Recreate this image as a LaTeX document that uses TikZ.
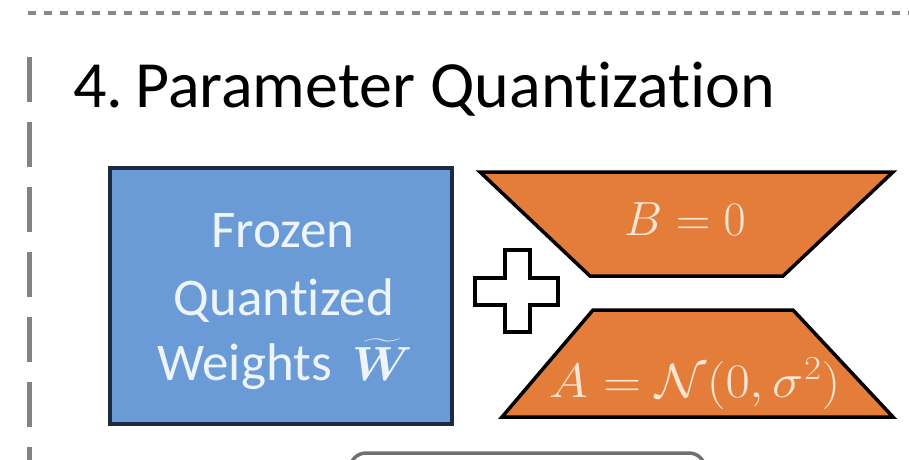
\RequirePackage{fix-cm}
\documentclass[tikz,border=0pt]{standalone}
\usepackage{amsmath,bm}
\usepackage{fontspec}
\setmainfont[Ligatures=CommonOff]{Carlito}
\definecolor{frameGray}{HTML}{8A8A8A}
\definecolor{boxBlue}{HTML}{6A9BD6}
\definecolor{boxNavy}{HTML}{1C2B40}
\definecolor{loraOrange}{HTML}{E47D3A}
\definecolor{textCream}{HTML}{FCE6D4}
\definecolor{textWhite}{HTML}{EEF4FC}
\definecolor{roundGray}{HTML}{707070}
\tikzset{
  titletext/.style={anchor=base west, inner sep=0pt, font=\fontsize{66}{70}\selectfont, text=black},
  bluetext/.style={anchor=base, inner sep=0pt, font=\fontsize{53}{60}\selectfont, text=textWhite},
  mathtext/.style={anchor=base, inner sep=0pt, font=\fontsize{48}{52}\selectfont, text=textCream},
  trap/.style={fill=loraOrange, draw=black, line width=3.5pt, line join=miter},
  plusshape/.style={fill=white, draw=black, line width=4pt, line join=miter},
}
\begin{document}
\begin{tikzpicture}[x=1pt,y=-1pt]
\useasboundingbox (0,0) rectangle (909,459);
\clip (0,0) rectangle (909,459);
% frame lines
\draw[frameGray, line width=3.5pt, dash pattern=on 8pt off 8pt] (28,13) -- (909,13);
\draw[frameGray!95!black, line width=5pt, dash pattern=on 45pt off 20pt] (29,57) -- (29,470);
% title
\node[titletext] (title) at (73,107) {4.\hspace{12pt}Parameter Quantization};
% blue box
\node[draw=boxNavy, fill=boxBlue, line width=4pt, minimum width=342pt, minimum height=256pt, inner sep=0pt] (frozen) at (281,296) {};
\node[bluetext] (l1) at (283,247) {Frozen};
\node[bluetext] (l2) at (284,315) {Quantized};
\node[bluetext, anchor=base east] (l3) at (332,380) {Weights};
\node[anchor=base west, inner sep=0pt, text=textWhite, font=\fontsize{48}{54}\selectfont] (wt) at (352,380) {$\widetilde{\bm{W}}$};
% plus sign
\draw[plusshape] (505,250) -- (530,250) -- (530,278) -- (558,278) -- (558,305) -- (530,305)
  -- (530,332) -- (505,332) -- (505,305) -- (475,305) -- (475,278) -- (505,278) -- cycle;
% trapezoids
\draw[trap] (480,172) -- (893,172) -- (783,276) -- (590,276) -- cycle;
\draw[trap] (593,310) -- (793,310) -- (893,417) -- (502,417) -- cycle;
\node[mathtext] (bzero) at (685,235) {$B=0$};
\node[mathtext] (anormal) at (695,397) {\scalebox{1.1}[1]{$A=\mathcal{N}(0,\sigma^2)$}};
% bottom rounded box (cut off)
\draw[roundGray, line width=3.5pt, rounded corners=16pt] (350,520) -- (350,453) -- (705,453) -- (705,520);
\end{tikzpicture}
\end{document}
